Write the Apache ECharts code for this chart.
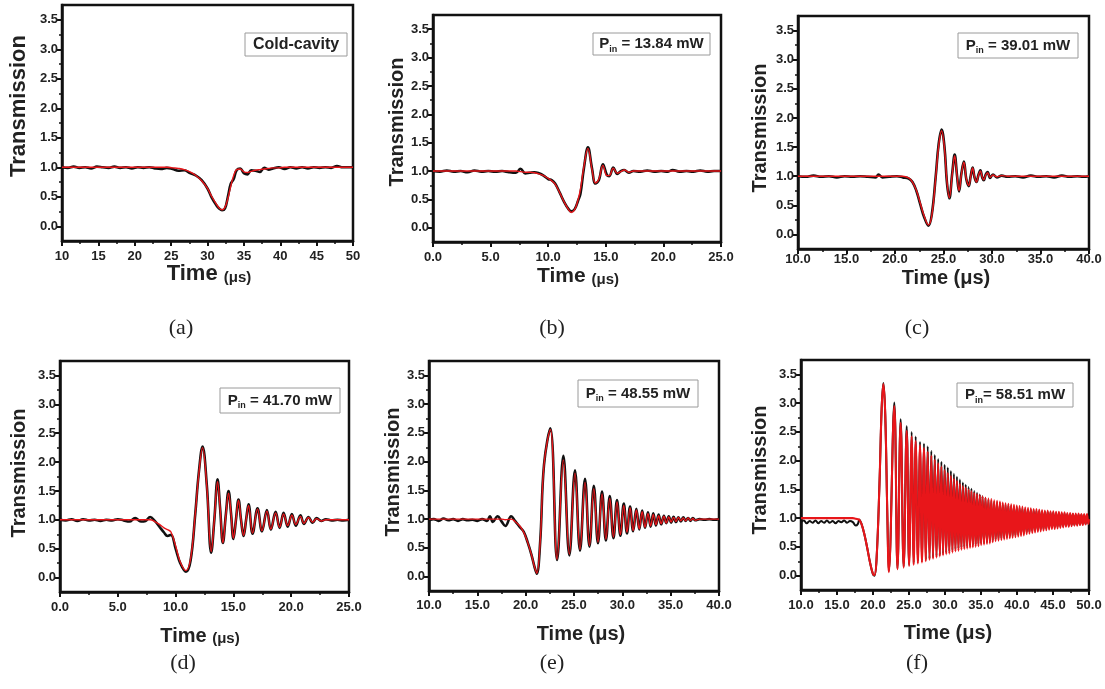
<!DOCTYPE html>
<html><head><meta charset="utf-8">
<script src="https://cdn.jsdelivr.net/npm/echarts@6/dist/echarts.min.js"></script>
<style>html,body{margin:0;padding:0;background:#fff}#c{width:1105px;height:689px}</style>
</head><body><div id="c"></div>
<script>
// ---------- DATA ----------
const yTickLabels = [0.0, 0.5, 1.0, 1.5, 2.0, 2.5, 3.0, 3.5];
const yMinorTicks = [0.25, 0.75, 1.25, 1.75, 2.25, 2.75, 3.25];

const legendTexts = ['Cold-cavity', '13.84 mW', '39.01 mW', '41.70 mW', '48.55 mW', '58.51 mW'];
const captions = ['(a)', '(b)', '(c)', '(d)', '(e)', '(f)'];

// (a) cold cavity
const aTime = [10,10.8,11.6,12.4,13.2,14.0,14.8,15.6,16.4,17.2,18.0,18.8,19.6,20.4,21.2,22.0,22.8,23.6,24.4,25.2,26.0,26.8,27.6,28.4,29.2,30.0,30.6,31.2,31.6,32.0,32.4,32.8,33.2,33.6,34.0,34.5,35.0,35.5,36.0,36.6,37.2,37.8,38.4,39.0,39.8,40.6,41.4,42.2,43.0,43.8,44.6,45.4,46.2,47.0,47.8,48.6,49.4,50];
const aMeas = [1.0,0.99,1.01,0.99,1.0,0.98,1.01,1.0,0.99,1.01,0.99,1.0,0.98,1.0,0.99,1.0,0.98,0.97,0.99,0.97,0.94,0.95,0.9,0.86,0.78,0.64,0.48,0.36,0.3,0.27,0.3,0.5,0.72,0.8,0.95,0.98,0.9,0.88,0.95,0.94,0.92,0.99,0.96,0.98,1.0,0.97,1.0,0.98,1.0,0.98,1.0,0.99,1.0,0.99,1.02,1.0,1.0,1.0];
const aFit = [1.0,1.0,1.0,1.0,1.0,1.0,1.0,1.0,1.0,1.0,1.0,1.0,1.0,1.0,1.0,1.0,1.0,1.0,1.0,0.99,0.98,0.96,0.92,0.86,0.77,0.64,0.5,0.38,0.31,0.28,0.32,0.47,0.68,0.86,0.96,0.97,0.92,0.91,0.93,0.95,0.96,0.97,0.98,0.99,0.99,1.0,1.0,1.0,1.0,1.0,1.0,1.0,1.0,1.0,1.0,1.0,1.0,1.0];

// (b) 13.84 mW
const bTime = [0,0.6,1.2,1.8,2.4,3.0,3.6,4.2,4.8,5.4,6.0,6.6,7.2,7.6,8.0,8.4,8.8,9.2,9.6,10.0,10.3,10.6,11.0,11.4,11.8,12.0,12.3,12.6,12.8,13.1,13.45,13.8,14.1,14.4,14.75,15.1,15.3,15.65,16.0,16.3,16.6,17.0,17.4,18.0,18.6,19.2,19.8,20.4,20.8,21.4,22.0,22.6,23.2,23.8,24.4,25];
const bMeas = [1.0,0.99,1.01,0.99,1.0,0.98,1.01,0.99,1.0,0.99,1.0,0.98,0.97,1.04,0.96,0.97,0.98,0.96,0.92,0.86,0.84,0.78,0.62,0.45,0.32,0.29,0.33,0.48,0.6,1.05,1.42,1.05,0.78,0.84,1.12,0.93,0.91,1.06,0.95,1.0,1.02,0.97,1.0,0.99,1.01,0.99,1.0,0.99,1.02,0.99,1.0,0.99,1.01,0.99,1.0,1.0];
const bFit = [1.0,1.0,1.0,1.0,1.0,1.0,1.0,1.0,1.0,1.0,1.0,1.0,1.0,0.99,0.98,0.98,0.97,0.95,0.92,0.87,0.83,0.77,0.62,0.45,0.31,0.27,0.32,0.5,0.68,1.08,1.4,1.03,0.79,0.86,1.1,0.92,0.92,1.05,0.96,0.99,1.02,0.98,1.0,1.0,1.0,1.0,1.0,1.0,1.0,1.0,1.0,1.0,1.0,1.0,1.0,1.0];

// (c) 39.01 mW
const cTime = [10,10.8,11.6,12.4,13.2,14.0,14.8,15.6,16.4,17.2,18.0,18.3,18.7,19.4,20.2,20.8,21.4,21.8,22.2,22.6,23.0,23.45,23.8,24.2,24.5,24.8,25.1,25.35,25.6,25.9,26.15,26.4,26.6,26.85,27.1,27.35,27.6,27.8,28.0,28.2,28.4,28.6,28.8,29.0,29.15,29.35,29.55,29.8,30.1,30.5,31.0,31.6,32.4,33.2,34.0,34.8,35.6,36.4,37.2,38.0,38.8,39.4,40];
const cMeas = [1.0,0.99,1.01,0.99,1.0,0.98,1.0,0.99,1.0,0.99,0.98,1.03,0.98,0.99,1.0,0.98,0.96,0.9,0.75,0.52,0.3,0.15,0.35,1.0,1.55,1.8,1.5,0.9,0.62,1.05,1.37,1.0,0.74,1.05,1.25,0.95,0.83,1.0,1.15,0.98,0.9,1.02,1.1,0.97,0.93,1.03,1.07,0.97,1.03,0.98,1.01,0.99,1.0,0.98,1.01,0.99,1.0,0.98,1.01,0.99,1.0,0.99,1.0];
const cFit = [1.0,1.0,1.0,1.0,1.0,1.0,1.0,1.0,1.0,1.0,1.0,1.0,1.0,1.0,1.0,1.0,0.97,0.9,0.76,0.54,0.32,0.16,0.33,0.98,1.52,1.78,1.48,0.92,0.63,1.03,1.35,1.0,0.75,1.04,1.24,0.96,0.84,0.99,1.14,0.99,0.9,1.01,1.09,0.98,0.94,1.02,1.06,0.98,1.02,0.99,1.01,1.0,1.0,1.0,1.0,1.0,1.0,1.0,1.0,1.0,1.0,1.0,1.0];

// (d) 41.70 mW
const dTime = [0,0.5,1.0,1.5,2.0,2.5,3.0,3.5,4.0,4.5,5.0,5.5,6.0,6.5,7.0,7.4,7.8,8.2,8.6,9.0,9.3,9.6,10.0,10.4,10.9,11.3,11.7,12.0,12.33,12.7,13.08,13.35,13.63,13.85,14.09,14.35,14.58,14.8,15.0,15.22,15.44,15.66,15.88,16.1,16.31,16.66,17.09,17.47,17.9,18.24,18.65,19.0,19.34,19.7,20.06,20.4,20.8,21.1,21.5,21.85,22.2,22.6,23.0,23.5,24.0,24.5,25];
const dMeas = [1.0,0.99,1.01,0.98,1.01,0.99,1.0,0.98,1.0,0.99,1.01,0.99,0.97,1.03,0.97,0.98,1.05,0.98,0.88,0.78,0.72,0.74,0.5,0.25,0.1,0.3,1.1,1.8,2.27,1.6,0.43,1.0,1.7,1.2,0.6,1.1,1.5,1.1,0.67,1.0,1.35,1.0,0.72,1.0,1.27,0.76,1.2,0.8,1.17,0.83,1.14,0.86,1.12,0.88,1.1,0.9,1.08,0.93,1.05,0.95,1.03,0.98,1.01,0.99,1.0,0.99,1.0];
const dFit = [1.0,1.0,1.0,1.0,1.0,1.0,1.0,1.0,1.0,1.0,1.0,1.0,1.0,1.0,1.0,1.0,1.0,0.97,0.92,0.86,0.83,0.79,0.55,0.27,0.12,0.33,1.1,1.78,2.25,1.58,0.45,1.0,1.66,1.2,0.6,1.08,1.46,1.1,0.68,1.0,1.34,1.0,0.73,1.0,1.25,0.77,1.19,0.81,1.15,0.84,1.12,0.87,1.1,0.9,1.08,0.92,1.06,0.94,1.04,0.96,1.02,0.98,1.0,1.0,1.0,1.0,1.0];

// (e) 48.55 mW
const eTime = [10,10.5,11.0,11.5,12.0,12.5,13.0,13.5,14.0,14.5,15.0,15.5,16.0,16.3,16.6,17.1,17.5,17.9,18.5,18.9,19.4,19.8,20.2,20.6,20.9,21.15,21.5,21.9,22.55,23.25,23.9,24.52,25.1,25.62,26.14,26.6,27.05,27.48,27.9,28.3,28.7,29.08,29.45,29.8,30.15,30.48,30.8,31.12,31.45,31.75,32.05,32.35,32.65,32.93,33.2,33.48,33.75,34.02,34.3,34.55,34.8,35.05,35.3,35.55,35.8,36.05,36.3,36.55,36.8,37.05,37.3,37.55,38.0,38.5,39.0,39.5,40];
const eMeas = [0.98,1.0,0.97,1.01,0.98,1.0,0.97,1.0,0.98,0.99,0.97,1.0,0.97,1.05,0.95,1.05,0.96,0.88,1.05,0.97,0.86,0.78,0.6,0.38,0.18,0.05,0.6,1.95,2.58,0.29,2.1,0.37,1.85,0.45,1.7,0.52,1.58,0.58,1.48,0.63,1.4,0.67,1.33,0.71,1.27,0.75,1.22,0.79,1.18,0.82,1.15,0.85,1.12,0.87,1.1,0.89,1.08,0.91,1.06,0.93,1.05,0.94,1.04,0.95,1.03,0.96,1.03,0.97,1.02,0.97,1.02,0.98,1.0,0.99,1.0,0.99,1.0];
const eFit = [1.0,1.0,1.0,1.0,1.0,1.0,1.0,1.0,1.0,1.0,1.0,1.0,1.0,1.0,1.0,1.0,1.0,0.99,1.0,0.96,0.88,0.77,0.6,0.38,0.18,0.06,0.6,1.95,2.56,0.3,2.03,0.39,1.8,0.47,1.64,0.54,1.53,0.6,1.44,0.65,1.36,0.69,1.3,0.73,1.24,0.77,1.2,0.8,1.16,0.83,1.13,0.86,1.1,0.88,1.08,0.9,1.06,0.92,1.05,0.93,1.04,0.95,1.03,0.96,1.03,0.97,1.02,0.97,1.02,0.98,1.01,0.98,1.0,1.0,1.0,1.0,1.0];

// (f) 58.51 mW
const fTime = [10,10.4,10.8,11.2,11.6,12.0,12.4,12.8,13.2,13.6,14.0,14.4,14.8,15.2,15.6,16.0,16.4,16.8,17.2,17.6,17.9,18.1,18.4,18.8,19.2,19.6,20.0,20.2,20.5,20.9,21.2,21.44,21.7,22.0,
 22.2,22.96,23.4,23.84,24.26,24.68,25.02,25.37,25.65,25.93,
 26.23,26.53,26.8,27.08,27.34,27.6,27.85,28.1,28.34,28.58,
 28.82,29.05,29.28,29.5,29.73,29.95,30.17,30.39,30.6,30.82,
 31.03,31.24,31.45,31.66,31.87,32.07,32.28,32.48,32.68,32.88,
 33.08,33.28,33.48,33.67,33.87,34.06,34.26,34.45,34.64,34.83,
 35.02,35.21,35.42,35.62,35.83,36.03,36.23,36.43,36.63,36.83,
 37.03,37.23,37.43,37.63,37.83,38.02,38.22,38.41,38.61,38.8,
 39.0,39.19,39.39,39.58,39.78,39.97,40.17,40.36,40.56,40.75,
 40.95,41.14,41.34,41.53,41.73,41.92,42.12,42.31,42.51,42.7,
 42.9,43.09,43.29,43.48,43.68,43.87,44.07,44.26,44.46,44.65,
 44.85,45.04,45.24,45.43,45.63,45.82,46.02,46.21,46.41,46.6,
 46.8,46.99,47.19,47.38,47.58,47.77,47.97,48.16,48.36,48.55,
 48.75,48.94,49.14,49.33,49.53,49.72,49.92,50.0];
const fMeas = [0.93,0.96,0.91,0.95,0.92,0.96,0.91,0.95,0.92,0.96,0.92,0.95,0.91,0.95,0.93,0.96,0.92,0.95,0.93,0.87,0.9,0.97,0.9,0.72,0.48,0.22,0.02,0.0,0.3,1.6,2.9,3.35,2.8,1.0,
 0.08,3.01,0.13,2.72,0.16,2.6,0.19,2.5,0.22,2.42,
 0.24,2.33,0.26,2.3,0.28,2.25,0.3,2.17,0.32,2.1,
 0.34,2.03,0.36,1.98,0.38,1.93,0.4,1.88,0.42,1.82,
 0.44,1.77,0.46,1.72,0.47,1.67,0.49,1.62,0.5,1.58,
 0.51,1.54,0.52,1.51,0.53,1.47,0.54,1.44,0.55,1.41,
 0.56,1.38,0.57,1.35,0.58,1.32,0.59,1.3,0.61,1.28,
 0.63,1.27,0.64,1.26,0.65,1.24,0.66,1.23,0.67,1.22,
 0.68,1.21,0.69,1.2,0.7,1.19,0.71,1.18,0.72,1.17,
 0.73,1.16,0.75,1.15,0.76,1.15,0.77,1.14,0.78,1.13,
 0.79,1.13,0.8,1.12,0.81,1.11,0.82,1.11,0.83,1.1,
 0.84,1.1,0.84,1.09,0.85,1.09,0.86,1.08,0.86,1.08,
 0.87,1.07,0.87,1.07,0.88,1.07,0.88,1.06,0.89,1.06,
 0.89,1.06,0.9,1.05,0.9,1.05,0.91,0.98];
const fFit = [1.0,1.0,1.0,1.0,1.0,1.0,1.0,1.0,1.0,1.0,1.0,1.0,1.0,1.0,1.0,1.0,1.0,1.0,1.0,0.99,0.98,0.97,0.9,0.72,0.48,0.22,0.03,0.01,0.3,1.6,2.9,3.33,2.8,1.0,
 0.06,2.95,0.11,2.66,0.14,2.52,0.17,2.42,0.19,2.34,
 0.21,2.27,0.23,2.22,0.25,2.16,0.27,2.09,0.29,2.02,
 0.31,1.96,0.33,1.9,0.35,1.84,0.37,1.79,0.38,1.74,
 0.4,1.69,0.42,1.65,0.43,1.6,0.45,1.56,0.46,1.53,
 0.47,1.5,0.48,1.47,0.49,1.44,0.5,1.42,0.51,1.4,
 0.53,1.38,0.54,1.36,0.55,1.34,0.56,1.33,0.58,1.31,
 0.6,1.3,0.61,1.29,0.62,1.27,0.63,1.26,0.64,1.25,
 0.65,1.24,0.66,1.23,0.67,1.22,0.68,1.21,0.69,1.2,
 0.7,1.19,0.72,1.18,0.73,1.17,0.74,1.16,0.75,1.16,
 0.76,1.15,0.77,1.14,0.78,1.13,0.79,1.13,0.8,1.12,
 0.81,1.12,0.81,1.11,0.82,1.11,0.83,1.1,0.84,1.1,
 0.85,1.09,0.85,1.09,0.86,1.08,0.87,1.08,0.87,1.08,
 0.88,1.07,0.88,1.07,0.89,1.07,0.9,0.98];

// ---------- LAYOUT ----------
const FONT = '"Liberation Sans", Arial, sans-serif';
const panels = [
  {t:aTime, m:aMeas, f:aFit, xmin:10, xmax:50, dec:0, lm:9, mw:2.6, fw:1.4, grid:[62,5,291,236], yt:[19,106,22], xt:[209,273,22,15], leg:[245,33,102,23], cap:[181,328]},
  {t:bTime, m:bMeas, f:bFit, xmin:0, xmax:25, dec:1, lm:9, mw:2.6, fw:1.4, grid:[433,15,288,227], yt:[397,122,20], xt:[578,275,21,15], leg:[593,33,117,22], cap:[552,328]},
  {t:cTime, m:cMeas, f:cFit, xmin:10, xmax:40, dec:1, lm:4, mw:2.6, fw:1.4, grid:[798,16,291,233], yt:[760,128,20], xt:[946,276,20,20], leg:[958,33,120,25], cap:[917,328]},
  {t:dTime, m:dMeas, f:dFit, xmin:0, xmax:25, dec:1, lm:9, mw:2.6, fw:1.4, grid:[60,361,289,231], yt:[19,473,20], xt:[200,634,20,15], leg:[220,388,120,25], cap:[183,663]},
  {t:eTime, m:eMeas, f:eFit, xmin:10, xmax:40, dec:1, lm:8, mw:2.6, fw:1.4, grid:[429,361,290,230], yt:[393,472,20], xt:[581,632,20,20], leg:[578,380,120,27], cap:[552,663]},
  {t:fTime, m:fMeas, f:fFit, xmin:10, xmax:50, dec:1, lm:9, mw:2.0, fw:2.1, grid:[801,360,288,230], yt:[760,470,20], xt:[948,631,20,20], leg:[957,383,116,24], cap:[917,663]}
];

const zip = (t, v) => t.map((x, i) => [x, v[i]]);
const grids = [], xAxes = [], yAxes = [], series = [], graphics = [];
const axisLine = {show:true, onZero:false, lineStyle:{color:'#111', width:2.5}};

panels.forEach((p, i) => {
  const [l, tp, w, h] = p.grid;
  grids.push({left:l, top:tp, width:w, height:h, containLabel:false, outerBoundsMode:'none',
    show:true, borderColor:'#111', borderWidth:2.5, backgroundColor:'#fff'});
  xAxes.push({gridIndex:i, type:'value', min:p.xmin, max:p.xmax, interval:5,
    axisLine, axisTick:{show:true, length:5, lineStyle:{color:'#111', width:2}},
    minorTick:{show:true, splitNumber:2, length:3, lineStyle:{color:'#111', width:1.5}},
    axisLabel:{formatter:v => v.toFixed(p.dec), fontFamily:FONT, fontWeight:'bold', fontSize:13, color:'#222', margin:p.lm},
    splitLine:{show:false}, minorSplitLine:{show:false}});
  yAxes.push({gridIndex:i, type:'value', min:-0.25, max:3.75,
    axisLine, axisTick:{show:true, length:5, customValues:yTickLabels, lineStyle:{color:'#111', width:2}},
    axisLabel:{customValues:yTickLabels, formatter:v => v.toFixed(1), fontFamily:FONT, fontWeight:'bold', fontSize:13, color:'#222', margin:4},
    splitLine:{show:false}});
  yAxes.push({gridIndex:i, type:'value', min:-0.25, max:3.75, position:'left',
    axisLine:{show:false}, axisTick:{show:true, length:3, customValues:yMinorTicks, lineStyle:{color:'#111', width:1.5}},
    axisLabel:{show:false}, splitLine:{show:false}});
  series.push({type:'line', xAxisIndex:i, yAxisIndex:2*i, data:zip(p.t, p.m), showSymbol:false, smooth:0.4,
    lineStyle:{color:'#111', width:p.mw}, itemStyle:{color:'#111'}, z:2});
  series.push({type:'line', xAxisIndex:i, yAxisIndex:2*i, data:zip(p.t, p.f), showSymbol:false, smooth:0.4,
    lineStyle:{color:'#e8161a', width:p.fw}, itemStyle:{color:'#e8161a'}, z:3});

  // axis titles
  graphics.push({type:'text', x:p.yt[0], y:p.yt[1], rotation:Math.PI/2,
    style:{text:'Transmission', font:'bold ' + p.yt[2] + 'px ' + FONT, fill:'#222', align:'center', verticalAlign:'middle'}});
  graphics.push({type:'text', x:p.xt[0], y:p.xt[1],
    style:{text:'{t|Time }{u|(\u03bcs)}', align:'center', verticalAlign:'middle',
      rich:{t:{fontFamily:FONT, fontWeight:'bold', fontSize:p.xt[2], fill:'#222', lineHeight:24, verticalAlign:'bottom'},
            u:{fontFamily:FONT, fontWeight:'bold', fontSize:p.xt[3], fill:'#222', lineHeight:24, verticalAlign:'bottom'}}}});
  // legend box
  const [bx, by, bw, bh] = p.leg;
  graphics.push({type:'rect', shape:{x:bx, y:by, width:bw, height:bh}, style:{fill:'#fff', stroke:'#9a9a9a', lineWidth:1}, z:10});
  const txt = i === 0 ? '{p|' + legendTexts[0] + '}' : '{p|P}{s|in}{p|' + (i === 5 ? '= ' : ' = ') + legendTexts[i] + '}';
  graphics.push({type:'text', x:bx + bw/2, y:by + bh/2, z:11,
    style:{text:txt, align:'center', verticalAlign:'middle',
      rich:{p:{fontFamily:FONT, fontWeight:'bold', fontSize:i === 0 ? 16 : 15, fill:'#222', lineHeight:20},
            s:{fontFamily:FONT, fontWeight:'bold', fontSize:9, fill:'#222', lineHeight:8, verticalAlign:'bottom'}}}});
  // caption
  graphics.push({type:'text', x:p.cap[0], y:p.cap[1],
    style:{text:captions[i], font:'22px "Liberation Serif", "DejaVu Serif", serif', fill:'#222', align:'center', verticalAlign:'middle'}});
});

const chart = echarts.init(document.getElementById('c'), null, {renderer:'canvas'});
chart.setOption({animation:false, backgroundColor:'#fff', grid:grids, xAxis:xAxes, yAxis:yAxes, series, graphic:graphics});
</script></body></html>
